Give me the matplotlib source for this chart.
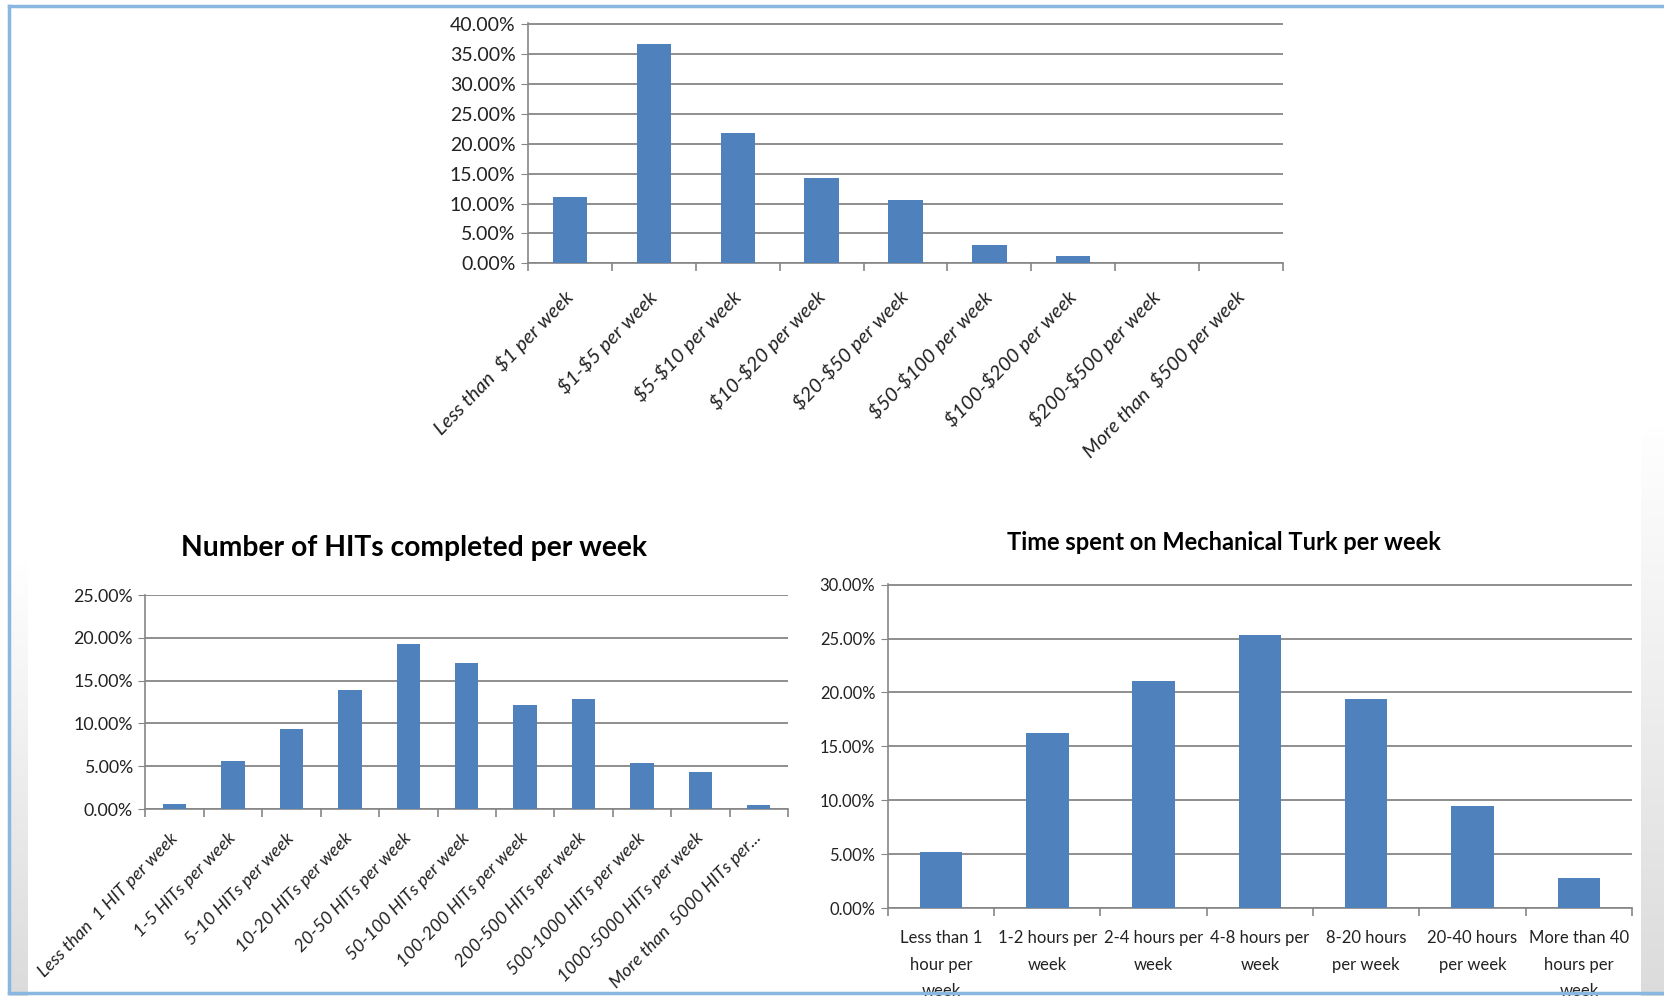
import matplotlib.pyplot as plt
import numpy as np
from matplotlib.lines import Line2D
from matplotlib.ticker import FuncFormatter

# --- data ---
earn_labels = ['Less than  $1 per week', '$1-$5 per week', '$5-$10 per week',
               '$10-$20 per week', '$20-$50 per week', '$50-$100 per week',
               '$100-$200 per week', '$200-$500 per week', 'More than  $500 per week']
earn_values = [11.1, 36.7, 21.7, 14.3, 10.6, 3.1, 1.3, 0.0, 0.0]

hits_labels = ['Less than  1 HIT per week', '1-5 HITs per week', '5-10 HITs per week',
               '10-20 HITs per week', '20-50 HITs per week', '50-100 HITs per week',
               '100-200 HITs per week', '200-500 HITs per week', '500-1000 HITs per week',
               '1000-5000 HITs per week', 'More than  5000 HITs per...']
hits_values = [0.6, 5.6, 9.4, 13.9, 19.3, 17.1, 12.1, 12.8, 5.4, 4.3, 0.5]

time_labels = ['Less than 1\nhour per\nweek', '1-2 hours per\nweek', '2-4 hours per\nweek',
               '4-8 hours per\nweek', '8-20 hours\nper week', '20-40 hours\nper week',
               'More than 40\nhours per\nweek']
time_values = [5.2, 16.2, 21.1, 25.3, 19.4, 9.5, 2.8]

hits_title = 'Number of HITs completed per week'
time_title = 'Time spent on Mechanical Turk per week'

BAR = '#4f81bd'
GRID = '#868686'
TXT = '#222222'
W, H = 1665, 996

plt.rcParams['font.family'] = ['Lato', 'DejaVu Sans']
plt.rcParams['text.parse_math'] = False  # keep the $ signs literal

fig = plt.figure(figsize=(W / 100, H / 100), dpi=100)
fig.patch.set_facecolor('white')


def px_axes(l, t, r, b):
    return fig.add_axes([l / W, 1 - b / H, (r - l) / W, (b - t) / H])


# slide background: grey fades at the sides
def grey_band(l, t, r, b, dark=0.84):
    bg = px_axes(l, t, r, b)
    v = np.linspace(1.0, dark, 100)
    img = np.dstack([v, v, v]).reshape(-1, 1, 3)
    bg.imshow(img, aspect='auto', extent=[0, 1, 0, 1], origin='upper')
    bg.set_axis_off()
    bg.set_zorder(-5)


grey_band(10, 560, 28, H, 0.86)
grey_band(1641, 420, W, H, 0.86)


def style(ax, n, ymax, fs):
    ax.set_xlim(-0.5, n - 0.5)
    ax.set_ylim(0, ymax * 1.002)
    ax.set_yticks(np.arange(0, ymax + 0.1, 5))
    ax.yaxis.set_major_formatter(FuncFormatter(lambda v, p: f'{v:.2f}%'))
    ax.grid(axis='y', color=GRID, lw=1.3)
    ax.set_axisbelow(True)
    ax.set_facecolor('none')
    for s in ['top', 'right']:
        ax.spines[s].set_visible(False)
    for s in ['left', 'bottom']:
        ax.spines[s].set_color(GRID)
        ax.spines[s].set_linewidth(1.2)
    ax.tick_params(axis='y', length=5, color=GRID, labelsize=fs, labelcolor=TXT, pad=4)
    ax.set_xticks(np.arange(n + 1) - 0.5, minor=True)
    ax.tick_params(axis='x', which='minor', length=6, color=GRID, width=1.2)
    ax.tick_params(axis='x', which='major', length=0)


# 1. earnings per week
ax1 = px_axes(528, 23.4, 1283, 263.4)
x = np.arange(len(earn_values))
ax1.bar(x, earn_values, width=0.41, color=BAR, zorder=3)
style(ax1, len(earn_values), 40, 14)
ax1.set_xticks(x)
ax1.set_xticklabels(earn_labels, rotation=46, ha='right', va='center',
                    rotation_mode='anchor', fontsize=14.5, style='italic', color=TXT)
ax1.tick_params(axis='x', which='major', pad=22)

# 2. HITs per week
ax2 = px_axes(145.5, 594.7, 788, 809)
x = np.arange(len(hits_values))
ax2.bar(x, hits_values, width=0.4, color=BAR, zorder=3)
style(ax2, len(hits_values), 25, 12.8)
ax2.set_xticks(x)
ax2.set_xticklabels(hits_labels, rotation=46, ha='right', va='center',
                    rotation_mode='anchor', fontsize=13, style='italic', color=TXT)
ax2.tick_params(axis='x', which='major', pad=19)
fig.text(414 / W, 1 - 548 / H, hits_title, ha='center', va='center',
         fontsize=20.3, fontweight='bold', color='black')

# 3. time spent per week
ax3 = px_axes(887.8, 584, 1632, 908)
x = np.arange(len(time_values))
ax3.bar(x, time_values, width=0.4, color=BAR, zorder=3)
style(ax3, len(time_values), 30, 11.9)
ax3.set_xticks(x)
ax3.set_xticklabels(time_labels, fontsize=12, color=TXT, linespacing=1.8)
ax3.tick_params(axis='x', which='major', pad=16)
fig.text(1224 / W, 1 - 542 / H, time_title, ha='center', va='center',
         fontsize=17, fontweight='bold', color='black')

# slide frame
fc = '#8ab6e2'
fig.add_artist(Line2D([9 / W, 9 / W], [1 - 993 / H, 1 - 6 / H], transform=fig.transFigure,
                      color=fc, lw=2.5))
fig.add_artist(Line2D([9 / W, 1], [1 - 6 / H, 1 - 6 / H], transform=fig.transFigure,
                      color=fc, lw=2.5))
fig.add_artist(Line2D([9 / W, 1], [1 - 993 / H, 1 - 993 / H], transform=fig.transFigure,
                      color=fc, lw=2.5))

fig.savefig('out.png', dpi=100)
